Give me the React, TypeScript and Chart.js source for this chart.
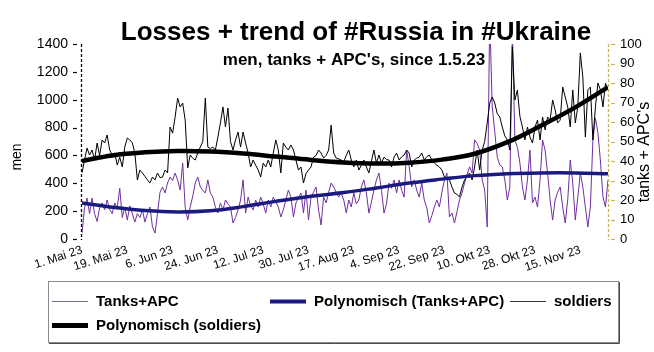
import React, { useEffect, useRef } from 'react';
import { Chart, registerables } from 'chart.js';

Chart.register(...registerables);

// ---------- data ----------
const X_TICK_LABELS = ['1. Mai 23', '19. Mai 23', '6. Jun 23', '24. Jun 23', '12. Jul 23', '30. Jul 23', '17. Aug 23', '4. Sep 23', '22. Sep 23', '10. Okt 23', '28. Okt 23', '15. Nov 23'];
const TICK_STEP_DAYS = 18;
const LAST_DAY = 209;

// daily soldiers (left axis), day 0 = 1 May 2023
const SOLDIERS = [
  474, 567, 653, 603, 639, 567, 689, 600, 711, 690,
  747, 639, 603, 617, 531, 588, 517, 660, 725, 711,
  690, 617, 424, 495, 474, 450, 424, 402, 445, 424,
  474, 440, 445, 495, 474, 804, 760, 876, 1012, 948,
  976, 854, 510, 603, 580, 567, 620, 660, 700, 1012,
  660, 650, 660, 639, 732, 833, 948, 804, 940, 700,
  639, 711, 768, 660, 768, 689, 617, 517, 567, 530,
  495, 445, 545, 517, 567, 517, 617, 711, 639, 474,
  689, 660, 639, 675, 639, 567, 495, 517, 402, 470,
  495, 517, 588, 600, 639, 617, 581, 600, 639, 818,
  617, 581, 575, 567, 553, 600, 639, 567, 517, 567,
  495, 530, 567, 517, 474, 560, 639, 545, 603, 545,
  588, 570, 567, 517, 588, 617, 567, 590, 603, 639,
  617, 517, 567, 580, 588, 617, 567, 590, 603, 567,
  545, 530, 517, 495, 445, 430, 424, 373, 330, 320,
  302, 373, 424, 450, 474, 424, 517, 639, 495, 639,
  700, 833, 976, 1020, 976, 900, 876, 804, 740, 711,
  639, 1380, 998, 1070, 880, 804, 711, 804, 732, 689,
  804, 854, 711, 876, 783, 876, 854, 998, 926, 833,
  854, 1091, 1020, 948, 804, 1070, 833, 948, 1336, 1163,
  732, 1070, 1091, 711, 948, 1120, 1070, 948, 1120, 1070,
];

// daily tanks + APC (right axis)
const TANKS_APC = [
  3, 16, 21, 13, 21, 13, 9, 16, 18.5, 15,
  20, 15, 13, 18.5, 16, 26, 11, 16.4, 9.7, 17,
  13, 8.7, 13, 11, 15, 8.7, 13, 16.4, 6.2, 3,
  13, 24, 26.7, 23.6, 28.7, 31.8, 30, 33.8, 30.3, 25.1,
  39, 16.4, 9.7, 16.4, 22, 28.7, 31.8, 26.7, 25, 23.6,
  30.3, 23.6, 21.5, 16.4, 13.3, 18.5, 14.9, 20, 18, 16.4,
  8.2, 11, 14.9, 20, 30.3, 13.3, 21.5, 17, 14.9, 20,
  16.4, 21.5, 18, 13.3, 20, 16.4, 21.5, 19, 16.4, 11.3,
  15, 20, 25.1, 21.5, 11.3, 18.5, 21, 23.6, 13.3, 25.1,
  9.7, 21.5, 24, 26.7, 14.9, 7.2, 21.5, 18.5, 24, 28.7,
  26.7, 24, 21.5, 23.6, 20, 13.3, 20, 16.4, 23.6, 18,
  20, 26.7, 30.3, 23.6, 13.3, 19, 25.1, 30.3, 33.8, 25,
  13.3, 18, 28.7, 26, 30.3, 23.6, 30.3, 25, 21.5, 45.6,
  37, 26.7, 30.3, 25, 21.5, 28.7, 20, 16, 8.2, 12,
  16.4, 20, 16.4, 24, 30.3, 33.8, 11.3, 13.3, 8.2, 14,
  20, 23.6, 28.7, 33, 37, 33.8, 50.8, 49, 45.6, 30.3,
  25.1, 6.2, 115, 67.7, 55, 42, 38, 37, 30.3, 20,
  26.7, 108, 50.8, 47, 39, 26.7, 20, 30.3, 45.6, 18.5,
  21.5, 16.4, 30.3, 50.8, 45.6, 33.8, 20, 9.7, 20, 24,
  26.7, 16.4, 8.2, 20, 40.5, 28.7, 9.7, 21.5, 33.8, 26.7,
  16.4, 6.2, 16.4, 50.8, 62, 54.4, 40, 21.5, 16.4, 30.3,
];

// polynomial trend curves, read at these days
const TREND_DAYS = [0, 12, 25, 38, 51, 64, 77, 91, 104, 117, 130, 143, 156, 169, 182, 196, 209];
const SOLDIERS_TREND = [560, 600, 622, 632, 628, 614, 592, 568, 550, 542, 548, 570, 612, 695, 810, 945, 1090];
const TANKS_TREND = [18.5, 16.3, 14.6, 13.9, 14.5, 16.6, 19.3, 21.9, 23.8, 26.2, 28.7, 30.7, 32.5, 33.5, 33.9, 33.9, 33.4];

const TITLE = 'Losses + trend of #Russia in #Ukraine';
const SUBTITLE = "men, tanks + APC's, since 1.5.23";
const LEFT_TITLE = 'men';
const RIGHT_TITLE = "tanks + APC's";

// ---------- styles ----------
const FONT = '"Liberation Sans", Arial, sans-serif';
const PURPLE = '#6f2f9f';
const NAVY = '#1a1a80';
const OLIVE = '#c4b45a';

const decorPlugin = {
  id: 'decor',
  afterDraw(chart: any) {
    const ctx = chart.ctx as CanvasRenderingContext2D;
    const area = chart.chartArea;
    ctx.save();

    // dashed axis lines + detached dashed tick marks
    const yl = chart.scales.y;
    const yr = chart.scales.y1;
    ctx.lineWidth = 1.3;
    ctx.setLineDash([3, 2]);
    ctx.strokeStyle = '#000';
    ctx.beginPath();
    ctx.moveTo(area.left - 0.5, area.top);
    ctx.lineTo(area.left - 0.5, area.bottom + 1);
    ctx.stroke();
    ctx.strokeStyle = OLIVE;
    ctx.beginPath();
    ctx.moveTo(area.right + 0.5, area.top);
    ctx.lineTo(area.right + 0.5, area.bottom + 1);
    ctx.stroke();
    ctx.setLineDash([]);
    ctx.lineWidth = 1.2;
    ctx.strokeStyle = '#000';
    yl.ticks.forEach((t: any) => {
      const py = Math.round(yl.getPixelForValue(t.value)) + 0.5;
      ctx.beginPath();
      ctx.moveTo(area.left - 9, py);
      ctx.lineTo(area.left - 5, py);
      ctx.stroke();
    });
    ctx.strokeStyle = OLIVE;
    yr.ticks.forEach((t: any) => {
      const py = Math.round(yr.getPixelForValue(t.value)) + 0.5;
      ctx.beginPath();
      ctx.moveTo(area.right + 3, py);
      ctx.lineTo(area.right + 7, py);
      ctx.stroke();
    });

    // titles
    ctx.fillStyle = '#000';
    ctx.textAlign = 'center';
    ctx.textBaseline = 'alphabetic';
    ctx.font = `bold 26px ${FONT}`;
    ctx.fillText(TITLE, 356, 40);
    ctx.font = `bold 17px ${FONT}`;
    ctx.fillText(SUBTITLE, 354, 65);

    // axis titles
    ctx.textBaseline = 'middle';
    ctx.font = `14px ${FONT}`;
    ctx.save();
    ctx.translate(17, 157);
    ctx.rotate(-Math.PI / 2);
    ctx.fillText(LEFT_TITLE, 0, 0);
    ctx.restore();
    ctx.font = `16px ${FONT}`;
    ctx.save();
    ctx.translate(645, 152);
    ctx.rotate(-Math.PI / 2);
    ctx.fillText(RIGHT_TITLE, 0, 0);
    ctx.restore();

    // legend box
    ctx.lineWidth = 1;
    ctx.strokeStyle = '#8a8a8a';
    ctx.strokeRect(48.5, 281.5, 570, 61);
    ctx.strokeStyle = '#4a4a4a';
    ctx.beginPath();
    ctx.moveTo(619.5, 282);
    ctx.lineTo(619.5, 343.5);
    ctx.lineTo(49, 343.5);
    ctx.stroke();

    const slots = [[52, 301], [270, 301], [510, 301], [52, 325]];
    ctx.textAlign = 'left';
    ctx.textBaseline = 'middle';
    ctx.font = `bold 15px ${FONT}`;
    chart.data.datasets.forEach((ds: any, i: number) => {
      const [x, y] = slots[i];
      ctx.strokeStyle = ds.legendColor || ds.borderColor;
      ctx.lineWidth = ds.legendWidth || ds.borderWidth;
      ctx.beginPath();
      ctx.moveTo(x, y + 0.5);
      ctx.lineTo(x + 36, y + 0.5);
      ctx.stroke();
      ctx.fillStyle = '#000';
      ctx.fillText(ds.label, x + 44, y + 1);
    });
    ctx.restore();
  },
};

export default function App() {
  const ref = useRef<HTMLCanvasElement>(null);

  useEffect(() => {
    document.body.style.margin = '0';
    const canvas = ref.current!;
    const chart = new Chart(canvas, {
      type: 'line',
      data: {
        datasets: [
          {
            label: 'Tanks+APC',
            data: TANKS_APC.map((v, i) => ({ x: i, y: v })),
            borderColor: PURPLE,
            legendColor: '#7a6a8a',
            borderWidth: 1,
            pointRadius: 0,
            tension: 0,
            yAxisID: 'y1',
            order: 3,
          } as any,
          {
            label: 'Polynomisch (Tanks+APC)',
            data: TREND_DAYS.map((d, i) => ({ x: d, y: TANKS_TREND[i] })),
            borderColor: NAVY,
            borderWidth: 3.5,
            legendWidth: 4,
            pointRadius: 0,
            tension: 0.4,
            yAxisID: 'y1',
            order: 1,
          },
          {
            label: 'soldiers',
            data: SOLDIERS.map((v, i) => ({ x: i, y: v })),
            borderColor: '#000',
            legendColor: '#333',
            borderWidth: 1,
            pointRadius: 0,
            tension: 0,
            yAxisID: 'y',
            order: 2,
          },
          {
            label: 'Polynomisch (soldiers)',
            data: TREND_DAYS.map((d, i) => ({ x: d, y: SOLDIERS_TREND[i] })),
            borderColor: '#000',
            borderWidth: 4.5,
            legendWidth: 5,
            pointRadius: 0,
            tension: 0.4,
            yAxisID: 'y',
            order: 0,
          },
        ],
      },
      options: {
        animation: false,
        responsive: false,
        devicePixelRatio: 1,
        layout: { padding: { top: 44, left: 0, right: 0, bottom: 0 }, autoPadding: false },
        plugins: { legend: { display: false }, tooltip: { enabled: false }, title: { display: false } },
        scales: {
          x: {
            type: 'linear',
            min: 0,
            max: LAST_DAY,
            grid: { display: false },
            border: { display: false },
            afterBuildTicks: (s: any) => {
              s.ticks = X_TICK_LABELS.map((_, i) => ({ value: i * TICK_STEP_DAYS }));
            },
            afterFit: (s: any) => { s.height = 113; },
            ticks: {
              autoSkip: false,
              minRotation: 18,
              maxRotation: 18,
              padding: -4,
              color: '#000',
              font: { family: FONT, size: 12 },
              callback: (v: any) => X_TICK_LABELS[Math.round(Number(v) / TICK_STEP_DAYS)] ?? '',
            },
          },
          y: {
            position: 'left',
            min: 0,
            max: 1400,
            afterFit: (s: any) => { s.width = 82; },
            ticks: {
              stepSize: 200,
              padding: 14,
              color: '#000',
              font: { family: FONT, size: 14 },
              callback: (v: any) => String(v),
            },
            grid: { drawOnChartArea: false, drawTicks: false },
            border: { display: false },
          },
          y1: {
            position: 'right',
            min: 0,
            max: 100,
            afterFit: (s: any) => { s.width = 46; },
            ticks: {
              stepSize: 10,
              padding: 12,
              color: '#000',
              font: { family: FONT, size: 13 },
              callback: (v: any) => String(v),
            },
            grid: { drawOnChartArea: false, drawTicks: false },
            border: { display: false },
          },
        },
      } as any,
      plugins: [decorPlugin],
    });
    return () => chart.destroy();
  }, []);

  return (
    <div style={{ position: 'fixed', left: 0, top: 0, width: 654, height: 352, background: '#fff' }}>
      <canvas ref={ref} width={654} height={352} style={{ width: 654, height: 352, display: 'block' }} />
    </div>
  );
}
